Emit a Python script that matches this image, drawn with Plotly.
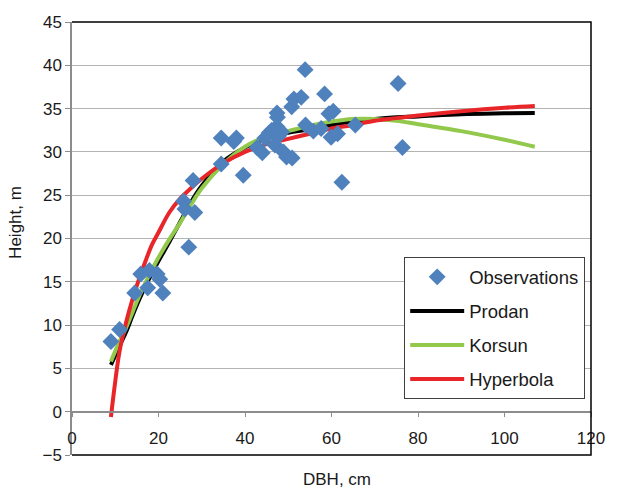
import plotly.graph_objects as go

# Observations (DBH, cm ; Height, m)
obs_dbh = [9.0, 11.0, 14.5, 15.9, 17.5, 17.9, 19.7, 20.3, 21.0, 27.0,
           25.8, 26.1, 28.0, 28.4, 34.5, 34.5, 37.4, 38.0, 39.6,
           42.8, 44.0, 44.6, 45.6, 46.2, 46.9, 47.4, 47.4, 47.5, 47.7, 48.5,
           48.9, 49.6, 50.9, 50.8, 51.3, 53.0, 53.9, 54.0, 55.8, 57.6,
           58.4, 59.4, 60.4, 59.9, 61.4, 62.4, 65.5, 75.4, 76.4]
obs_h = [8.1, 9.5, 13.7, 15.9, 14.3, 16.3, 15.9, 15.3, 13.7, 19.0,
         24.3, 23.4, 26.7, 23.0, 28.6, 31.6, 31.2, 31.6, 27.3,
         30.5, 29.9, 31.6, 32.2, 32.5, 30.8, 32.9, 34.5, 34.0, 31.8, 32.3,
         30.0, 29.4, 29.3, 35.2, 36.1, 36.3, 39.5, 33.1, 32.4, 32.7,
         36.7, 34.4, 34.7, 31.7, 32.1, 26.5, 33.1, 37.9, 30.5]

# Fitted curves, values
curve_dbh = [9, 10, 11, 12.5, 14, 15.5, 17, 18.5, 20, 22.5, 25, 27.5, 30, 35, 40,
             45, 50, 55, 60, 65, 70, 75, 80, 90, 100, 107]
prodan_h = [5.4, 6.5, 7.6, 9.2, 11.1, 12.9, 14.5, 16.0, 17.4, 19.6, 21.9, 24.2, 26.1,
            28.9, 30.5, 31.6, 32.2, 32.6, 33.1, 33.5, 33.8, 34.0, 34.1, 34.35, 34.45, 34.5]
korsun_h = [5.8, 7.0, 8.1, 9.7, 11.5, 13.3, 14.9, 16.4, 17.8, 19.9, 21.8, 23.9, 25.8,
            28.6, 30.6, 31.8, 32.4, 33.0, 33.5, 33.8, 33.8, 33.6, 33.2, 32.4, 31.4, 30.6]
hyper_h = [-0.6, 3.5, 7.0, 10.3, 13.0, 15.3, 17.4, 19.3, 20.7, 23.0, 24.6, 25.8, 26.9,
           28.7, 30.0, 30.9, 31.5, 32.1, 32.7, 33.1, 33.6, 33.9, 34.2, 34.7, 35.1, 35.3]

x_ticks = [0, 20, 40, 60, 80, 100, 120]
y_ticks = [-5, 0, 5, 10, 15, 20, 25, 30, 35, 40, 45]

FONT = "Liberation Sans, Arial, sans-serif"
TXT = "#1a1a1a"

fig = go.Figure()
fig.add_trace(go.Scatter(x=curve_dbh, y=prodan_h, mode="lines", name="Prodan",
                         line=dict(color="#000000", width=4, shape="spline"),
                         legendgroup="b", legendrank=2))
fig.add_trace(go.Scatter(x=curve_dbh, y=korsun_h, mode="lines", name="Korsun",
                         line=dict(color="#92C84C", width=4, shape="spline"),
                         legendgroup="c", legendrank=3))
fig.add_trace(go.Scatter(x=curve_dbh, y=hyper_h, mode="lines", name="Hyperbola",
                         line=dict(color="#E8262A", width=4, shape="spline"),
                         legendgroup="d", legendrank=4))
fig.add_trace(go.Scatter(x=obs_dbh, y=obs_h, mode="markers", name="Observations",
                         marker=dict(symbol="diamond", size=13, color="#4F81BD",
                                     line=dict(width=0)),
                         legendgroup="a", legendrank=1))

fig.update_layout(
    width=617, height=489,
    margin=dict(l=72, r=18, t=22, b=34),
    plot_bgcolor="white", paper_bgcolor="white",
    font=dict(family=FONT, size=17, color=TXT),
    showlegend=True,
    legend=dict(x=(409 - 72) / 527, y=(455 - 257) / 433, xanchor="left", yanchor="top",
                bgcolor="white", bordercolor="#404040", borderwidth=1.3,
                font=dict(family=FONT, size=18.5, color=TXT),
                itemwidth=54,
                traceorder="grouped", tracegroupgap=7),
    xaxis=dict(range=[0, 120], tickvals=x_ticks, showgrid=False, zeroline=False,
               showline=True, linecolor="#8c8c8c", linewidth=1.5,
               ticks="outside", ticklen=5, tickcolor="#8c8c8c",
               anchor="free", position=0.1, ticklabelstandoff=6),
    yaxis=dict(range=[-5, 45], tickvals=y_ticks, showgrid=True, gridcolor="#b3b3b3",
               gridwidth=1.3, zeroline=False, showline=True, linecolor="#8c8c8c",
               linewidth=1.5, ticks="outside", ticklen=5, tickcolor="#8c8c8c"),
    annotations=[
        dict(text="DBH, cm", xref="paper", yref="paper",
             x=(341 - 72) / 527, y=(455 - 479) / 433, xanchor="center", yanchor="middle",
             showarrow=False, font=dict(family=FONT, size=17, color=TXT)),
        dict(text="Height, m", xref="paper", yref="paper", textangle=-90,
             x=(14 - 72) / 527, y=(455 - 222) / 433, xanchor="center", yanchor="middle",
             showarrow=False, font=dict(family=FONT, size=17, color=TXT)),
    ],
    shapes=[dict(type="path", xref="paper", yref="paper",
                 path="M 0,1 L 1,1 L 1,0 L 0,0",
                 line=dict(color="#000000", width=1.5), layer="above")],
)

fig.write_html("out.html", config={"displayModeBar": False},
               post_script="document.body.style.margin='0';")
